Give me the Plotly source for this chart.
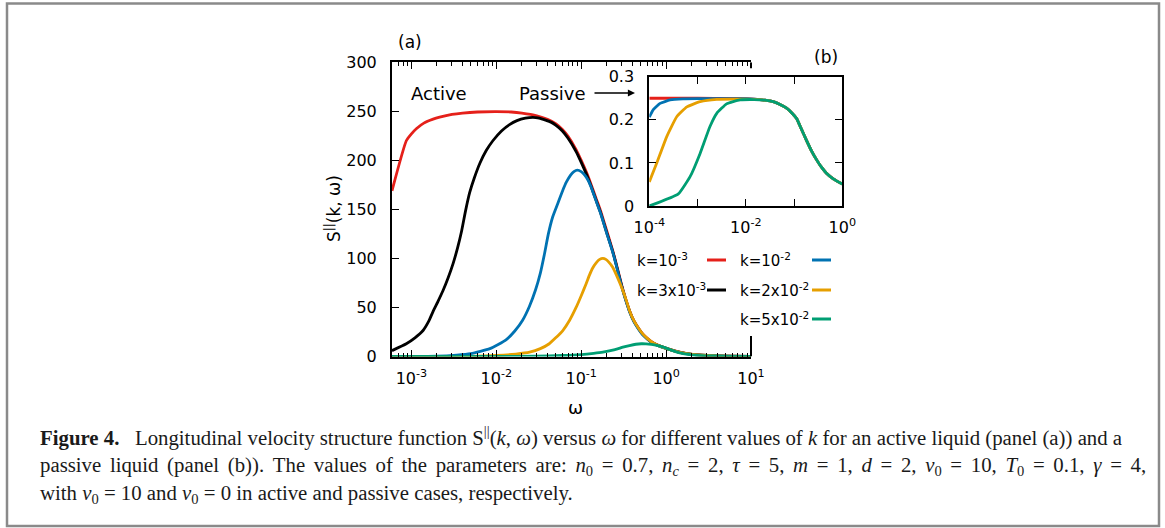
import plotly.graph_objects as go

W, H = 1165, 528

def px(x):
    return x / W

def py(y):
    return 1 - y / H

# ---------------- data: panel (a) active liquid ----------------
w_a_k1 = [5.9e-4, 8.7e-4, 1e-3, 1.15e-3, 1.4e-3, 1.8e-3, 2.15e-3, 3e-3, 4e-3, 6e-3, 1e-2, 1.5e-2, 2e-2,
          3e-2, 4e-2, 5e-2, 6e-2, 7e-2, 8.7e-2, 0.1, 0.115, 0.13, 0.15, 0.17, 0.2, 0.235, 0.265, 0.295,
          0.33, 0.37, 0.42, 0.48, 0.53, 0.6, 0.7, 0.83, 1.0, 1.3, 1.7, 2.3, 3.0, 5.0, 10.0]
S_a_k1 = [169, 220, 227, 232.5, 238, 242, 244, 246.8, 248.2, 249.3, 249.7, 249.3, 248.2,
          245.5, 242, 237.5, 231.5, 224.5, 211, 200, 188, 176, 161, 148, 128, 108, 91, 75,
          60, 47, 36, 28, 23, 18.5, 14, 11, 8.5, 5.5, 3.2, 1.8, 1.0, 0.4, 0.1]

w_a_k2 = [5.9e-4, 8.7e-4, 1.1e-3, 1.37e-3, 1.6e-3, 1.8e-3, 2.05e-3, 2.35e-3, 2.7e-3, 3.1e-3, 3.5e-3,
          3.9e-3, 4.35e-3, 4.85e-3, 5.5e-3, 6.4e-3, 7.6e-3, 9.1e-3, 1.15e-2, 1.43e-2, 1.75e-2, 2.2e-2,
          2.7e-2, 3.2e-2, 3.8e-2, 4.4e-2, 5e-2, 6e-2, 7e-2, 8.7e-2, 0.1, 0.115, 0.13, 0.15, 0.17, 0.2,
          0.235, 0.265, 0.295, 0.33, 0.37, 0.42, 0.48, 0.53, 0.6, 0.7, 0.83, 1.0, 1.3, 1.7, 2.3, 3.0,
          5.0, 10.0]
S_a_k2 = [6, 13, 19, 26.5, 36, 46, 56, 67, 80, 95, 111,
          128, 149, 167, 182, 197, 210, 220, 230, 236.5, 240.5, 243,
          243.8, 243, 241, 239, 236, 230, 222.5, 209, 198, 186, 174, 159, 146, 126,
          107, 90, 74, 59.5, 46.5, 35.5, 27.5, 22.5, 18, 13.7, 10.8, 8.3, 5.3, 3.1, 1.7, 1.0,
          0.4, 0.1]

w_a_k3 = [5.9e-4, 2e-3, 3.4e-3, 5e-3, 8.4e-3, 1.3e-2, 1.65e-2, 2.04e-2, 2.45e-2, 2.9e-2, 3.3e-2, 3.7e-2,
          4.1e-2, 4.6e-2, 5.3e-2, 6.1e-2, 6.7e-2, 7.5e-2, 8.2e-2, 9e-2, 0.1, 0.11, 0.12, 0.13, 0.15,
          0.17, 0.2, 0.235, 0.265, 0.295, 0.33, 0.37, 0.42, 0.48, 0.53, 0.6, 0.7, 0.83, 1.0, 1.3, 1.7,
          2.3, 3.0, 5.0, 10.0]
S_a_k3 = [0.05, 0.4, 1.5, 3, 8, 17, 26, 37, 51, 68, 85, 105,
          125, 142, 156, 170, 178, 185, 188.5, 190, 188.5, 185, 180, 173.5, 158.5,
          145.5, 125.5, 106.5, 89.5, 73.5, 59, 46, 35, 27, 22, 17.8, 13.5, 10.6, 8.2, 5.2, 3.0,
          1.7, 1.0, 0.4, 0.1]

w_a_k4 = [5.9e-4, 5e-3, 1e-2, 1.7e-2, 2.47e-2, 3.3e-2, 4.2e-2, 5e-2, 6.07e-2, 7.3e-2, 8.7e-2, 0.1, 0.114,
          0.125, 0.136, 0.15, 0.165, 0.18, 0.195, 0.21, 0.235, 0.26, 0.285, 0.31, 0.34, 0.37, 0.42,
          0.48, 0.53, 0.6, 0.7, 0.83, 1.0, 1.3, 1.7, 2.3, 3.0, 5.0, 10.0]
S_a_k4 = [0.0, 0.2, 1, 2.5, 4.4, 8, 13, 19, 26.5, 37, 50, 62, 74,
          83, 90, 95.5, 99, 100, 99, 96.5, 91, 83, 75, 67, 57, 47, 36,
          28, 23, 18.5, 14, 10.8, 8.3, 5.3, 3.1, 1.7, 1.0, 0.4, 0.1]

w_a_k5 = [5.9e-4, 1e-2, 3e-2, 6e-2, 0.1, 0.14, 0.18, 0.25, 0.31, 0.37, 0.44, 0.51, 0.58, 0.67, 0.8, 0.93,
          1.15, 1.45, 2.0, 2.7, 3.5, 6.0, 10.0]
S_a_k5 = [0, 0.1, 0.4, 1, 2, 3.2, 4.4, 7, 9.5, 11.2, 12.5, 13, 12.9, 12.3, 11, 9.5,
          6.5, 3.6, 1.7, 0.8, 0.5, 0.2, 0.05]

# ---------------- data: panel (b) passive liquid ----------------
w_b_k1 = [1e-4, 1e-3, 5e-3, 1e-2, 1.5e-2, 2.5e-2, 3.7e-2, 5e-2, 7e-2, 0.09, 0.113, 0.14, 0.18, 0.23,
          0.294, 0.37, 0.47, 0.65, 1.0]
S_b_k1 = [0.25, 0.25, 0.2497, 0.2492, 0.248, 0.2455, 0.242, 0.236, 0.227, 0.216, 0.203, 0.18, 0.153,
          0.128, 0.107, 0.09, 0.076, 0.063, 0.051]

w_b_k2 = [1e-4, 1.2e-4, 1.67e-4, 2.7e-4, 5e-4, 1e-3, 1e-2, 1.5e-2, 2.5e-2, 3.7e-2, 5e-2, 7e-2, 0.09,
          0.113, 0.14, 0.18, 0.23, 0.294, 0.37, 0.47, 0.65, 1.0]
S_b_k2 = [0.206, 0.223, 0.238, 0.246, 0.2485, 0.249, 0.2492, 0.248, 0.2455, 0.242, 0.236, 0.227, 0.216,
          0.203, 0.18, 0.153, 0.128, 0.107, 0.09, 0.076, 0.063, 0.051]

w_b_k3 = [1e-4, 1.42e-4, 2.3e-4, 3.7e-4, 6e-4, 1.13e-3, 2.5e-3, 1e-2, 1.5e-2, 2.5e-2, 3.7e-2, 5e-2,
          7e-2, 0.09, 0.113, 0.14, 0.18, 0.23, 0.294, 0.37, 0.47, 0.65, 1.0]
S_b_k3 = [0.056, 0.099, 0.161, 0.207, 0.23, 0.242, 0.2475, 0.248, 0.2475, 0.2455, 0.242, 0.236,
          0.227, 0.216, 0.203, 0.18, 0.153, 0.128, 0.107, 0.09, 0.076, 0.063, 0.051]

w_b_k4 = [1e-4, 4e-4, 7e-4, 1.13e-3, 1.8e-3, 2.5e-3, 4e-3, 7.6e-3, 1.5e-2, 2.5e-2, 3.7e-2, 5e-2,
          7e-2, 0.09, 0.113, 0.14, 0.18, 0.23, 0.294, 0.37, 0.47, 0.65, 1.0]
S_b_k4 = [0.0, 0.028, 0.068, 0.122, 0.184, 0.215, 0.237, 0.246, 0.247, 0.2455, 0.242, 0.236,
          0.227, 0.216, 0.203, 0.18, 0.153, 0.128, 0.107, 0.09, 0.076, 0.063, 0.051]

# ---------------- labels ----------------
series_a = [
    ("k=10<sup>-3</sup>", w_a_k1, S_a_k1, "#e5201a"),
    ("k=3x10<sup>-3</sup>", w_a_k2, S_a_k2, "#000000"),
    ("k=10<sup>-2</sup>", w_a_k3, S_a_k3, "#0072b2"),
    ("k=2x10<sup>-2</sup>", w_a_k4, S_a_k4, "#e69f00"),
    ("k=5x10<sup>-2</sup>", w_a_k5, S_a_k5, "#009e73"),
]
series_b = [
    (w_b_k1, S_b_k1, "#e5201a"),
    (w_b_k2, S_b_k2, "#0072b2"),
    (w_b_k3, S_b_k3, "#e69f00"),
    (w_b_k4, S_b_k4, "#009e73"),
]

xa_tickvals = [1e-3, 1e-2, 1e-1, 1e0, 1e1]
xa_ticktext = ["10<sup>-3</sup>", "10<sup>-2</sup>", "10<sup>-1</sup>", "10<sup>0</sup>", "10<sup>1</sup>"]
ya_tickvals = [0, 50, 100, 150, 200, 250, 300]
xb_tickvals = [1e-4, 1e-2, 1e0]
xb_ticktext = ["10<sup>-4</sup>", "10<sup>-2</sup>", "10<sup>0</sup>"]
yb_tickvals = [0, 0.1, 0.2, 0.3]
yb_ticktext = ["0", "0.1", "0.2", "0.3"]

caption_lines = [
    "<b>Figure 4.</b>\u2002 Longitudinal velocity structure function S<sup>||</sup>(<i>k</i>, <i>ω</i>) versus <i>ω</i> "
    "for different values of <i>k</i> for an active liquid (panel (a)) and a",
    ("passive liquid (panel (b)). The values of the parameters are: <i>n</i><sub>0</sub> = 0.7, "
     "<i>n<sub>c</sub></i> = 2, <i>τ</i> = 5, <i>m</i> = 1, <i>d</i> = 2, <i>v</i><sub>0</sub> = 10, "
     "<i>T</i><sub>0</sub> = 0.1, <i>γ</i> = 4,").replace(" ", " \u200a\u200a"),
    "with <i>v</i><sub>0</sub> = 10 and <i>v</i><sub>0</sub> = 0 in active and passive cases, respectively.",
]

FONT = "DejaVu Sans"
LW = 2.8

fig = go.Figure()
for name, w, s, c in series_a:
    fig.add_trace(go.Scatter(x=w, y=s, mode="lines", line=dict(color=c, width=LW, shape="spline", smoothing=0.5),
                             xaxis="x", yaxis="y", showlegend=False, name=name))
for w, s, c in series_b:
    fig.add_trace(go.Scatter(x=w, y=s, mode="lines", line=dict(color=c, width=LW, shape="spline", smoothing=0.4),
                             xaxis="x2", yaxis="y2", showlegend=False))

def minor_log(lo, hi):
    vals = []
    for e in range(lo, hi):
        for m in range(2, 10):
            vals.append(m * 10 ** e)
    return vals

main_dom_x = [px(392), px(751)]
main_dom_y = [py(356.5), py(62.3)]
ins_dom_x = [px(649.3), px(842.3)]
ins_dom_y = [py(206), py(76.7)]

tickfont = dict(family=FONT, size=16, color="black")

fig.update_layout(
    width=W, height=H,
    margin=dict(l=0, r=0, t=0, b=0, pad=0, autoexpand=False),
    paper_bgcolor="white", plot_bgcolor="rgba(0,0,0,0)",
    showlegend=False,
    xaxis=dict(type="log", domain=main_dom_x, range=[-3.229, 1.0], anchor="y", automargin=False,
               showline=True, linecolor="black", linewidth=2, mirror="ticks",
               ticks="inside", ticklen=7, tickwidth=1.2, tickcolor="black",
               tickmode="array", tickvals=xa_tickvals, ticktext=xa_ticktext,
               tickfont=tickfont, ticklabelstandoff=6,
               minor=dict(ticks="inside", ticklen=4, tickwidth=1, tickcolor="black",
                          tickmode="array", tickvals=minor_log(-4, 1), showgrid=False),
               showgrid=False, zeroline=False),
    yaxis=dict(domain=main_dom_y, range=[0, 300], anchor="x", automargin=False,
               showline=True, linecolor="black", linewidth=2, mirror=False,
               ticks="inside", ticklen=7, tickwidth=1.2, tickcolor="black",
               tickmode="array", tickvals=ya_tickvals,
               tickfont=tickfont, ticklabelstandoff=10,
               showgrid=False, zeroline=False),
    xaxis2=dict(type="log", domain=ins_dom_x, range=[-4, 0], anchor="y2", automargin=False,
                showline=True, linecolor="black", linewidth=2, mirror="ticks",
                ticks="inside", ticklen=7, tickwidth=1.2, tickcolor="black",
                tickmode="array", tickvals=xb_tickvals, ticktext=xb_ticktext,
                tickfont=tickfont, ticklabelstandoff=6,
                minor=dict(ticks="inside", ticklen=7, tickwidth=1.2, tickcolor="black",
                           tickmode="array", tickvals=[1e-3, 1e-1], showgrid=False),
                showgrid=False, zeroline=False),
    yaxis2=dict(domain=ins_dom_y, range=[0, 0.3], anchor="x2", automargin=False,
                showline=True, linecolor="black", linewidth=2, mirror="ticks",
                ticks="inside", ticklen=7, tickwidth=1.2, tickcolor="black",
                tickmode="array", tickvals=yb_tickvals, ticktext=yb_ticktext,
                tickfont=tickfont, ticklabelstandoff=10,
                showgrid=False, zeroline=False),
)

shapes = []
# outer gray frame
shapes.append(dict(type="rect", xref="paper", yref="paper", x0=px(7), x1=px(1159), y0=py(526), y1=py(3.5),
                   line=dict(color="#8a8a8a", width=2.5), fillcolor="rgba(0,0,0,0)", layer="above"))
# visible parts of the right border of panel (a)
shapes.append(dict(type="line", xref="x domain", yref="y", x0=1, x1=1, y0=0, y1=21,
                   line=dict(color="black", width=2)))
shapes.append(dict(type="line", xref="x domain", yref="y", x0=1, x1=1, y0=294, y1=300,
                   line=dict(color="black", width=2)))

annotations = []
# legend
leg_rows = [260, 290, 319]
leg_pos = [(0, 0), (0, 1), (1, 0), (1, 1), (1, 2)]
col_text_x = [635, 738]
col_line_x = [(707, 726), (812, 831)]
for (name, _, _, c), (col, row) in zip(series_a, leg_pos):
    annotations.append(dict(xref="paper", yref="paper", x=px(col_text_x[col]), y=py(leg_rows[row]),
                            text=name, showarrow=False, xanchor="left", yanchor="middle",
                            font=dict(family=FONT, size=15, color="black")))
    shapes.append(dict(type="line", xref="paper", yref="paper",
                       x0=px(col_line_x[col][0]), x1=px(col_line_x[col][1]),
                       y0=py(leg_rows[row]), y1=py(leg_rows[row]),
                       line=dict(color=c, width=3)))

def txt(x, y, t, size=17, **kw):
    d = dict(xref="paper", yref="paper", x=px(x), y=py(y), text=t, showarrow=False,
             xanchor="center", yanchor="middle", font=dict(family=FONT, size=size, color="black"))
    d.update(kw)
    return d

annotations.append(txt(410, 42, "(a)"))
annotations.append(txt(826, 57, "(b)"))
annotations.append(txt(439, 93, "Active", 18))
annotations.append(txt(552, 93, "Passive", 18))
annotations.append(dict(xref="paper", yref="paper", x=px(635), y=py(93), ax=-42, ay=0, text="",
                        showarrow=True, arrowhead=2, arrowsize=1.1, arrowwidth=1.3, arrowcolor="black"))
annotations.append(txt(333, 209, "S<sup>||</sup>(k, ω)", 17, textangle=-90))
annotations.append(txt(575, 407, "ω", 18))

cap_y = [436, 466, 494]
for t, y in zip(caption_lines, cap_y):
    annotations.append(dict(xref="paper", yref="paper", x=px(38), y=py(y), text=t, showarrow=False,
                            xanchor="left", yanchor="middle",
                            font=dict(family="Liberation Serif", size=20.8, color="#1a1a1a")))

fig.update_layout(shapes=shapes, annotations=annotations)
fig.write_html("out.html", config={"displayModeBar": False},
               post_script="document.body.style.margin='0px';document.body.style.overflow='hidden';")
